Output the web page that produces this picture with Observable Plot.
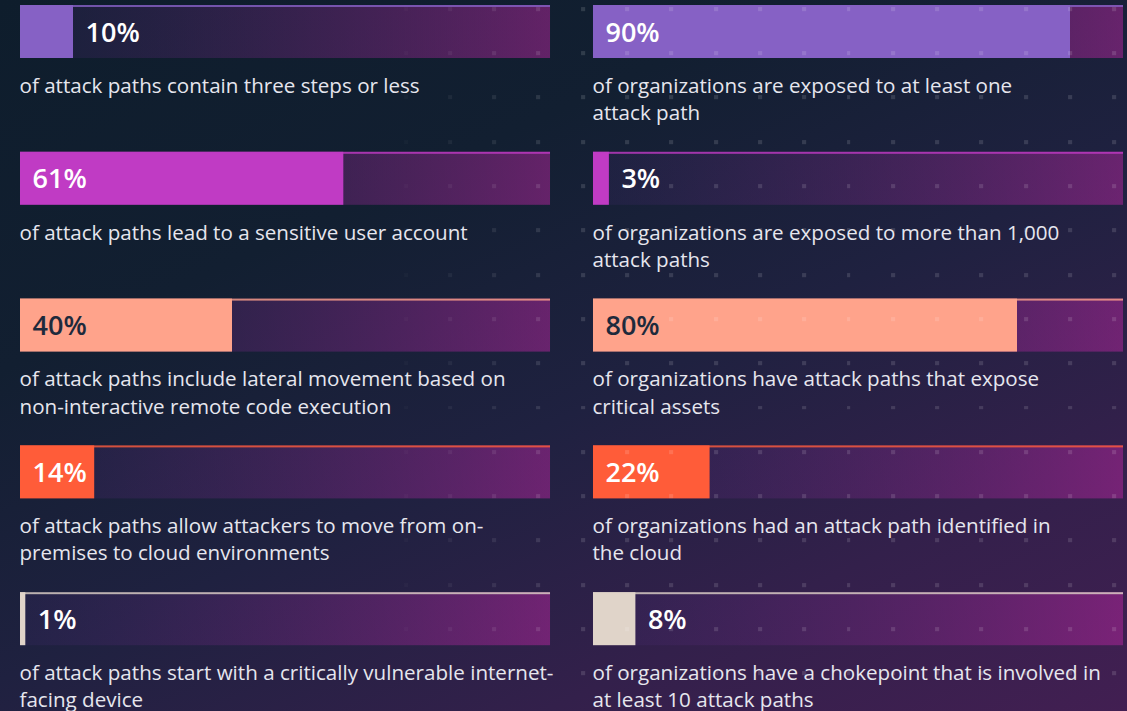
<!DOCTYPE html>
<html>
<head>
<meta charset="utf-8">
<script src="https://cdn.jsdelivr.net/npm/d3@7"></script>
<script src="https://cdn.jsdelivr.net/npm/@observablehq/plot@0.6"></script>
<style>
  html, body { margin: 0; padding: 0; width: 1127px; height: 711px; overflow: hidden; }
  body {
    background: linear-gradient(155deg, #0e1d2c 0%, #121f31 30%, #1f2140 55%, #33204b 78%, #421f52 100%);
    font-family: "Open Sans", "Noto Sans", sans-serif;
    position: relative;
  }
  #chart { position: absolute; left: 0; top: 0; }
  #dots {
    position: absolute; left: 0; top: 0; width: 1127px; height: 711px; pointer-events: none;
    background-image: url("data:image/svg+xml;utf8,<svg xmlns='http://www.w3.org/2000/svg' width='44.3' height='44.3'><rect x='5' y='7' width='4' height='4' fill='white' fill-opacity='0.13'/></svg>");
    background-size: 44.3px 44.3px;
    -webkit-mask-image: linear-gradient(to right, transparent 33%, black 50%);
    mask-image: linear-gradient(to right, transparent 33%, black 50%);
  }
</style>
</head>
<body>
<div id="chart"></div>
<div id="dots"></div>
<script>
// ---- data ----
const columns = ["attack paths", "organizations"];
const rows = [0, 1, 2, 3, 4];
const attackPathValues = [10, 61, 40, 14, 1];
const organizationValues = [90, 3, 80, 22, 8];
const attackPathTexts = [
  "of attack paths contain three steps or less",
  "of attack paths lead to a sensitive user account",
  "of attack paths include lateral movement based on\nnon-interactive remote code execution",
  "of attack paths allow attackers to move from on-\npremises to cloud environments",
  "of attack paths start with a critically vulnerable internet-\nfacing device"
];
const organizationTexts = [
  "of organizations are exposed to at least one\nattack path",
  "of organizations are exposed to more than 1,000\nattack paths",
  "of organizations have attack paths that expose\ncritical assets",
  "of organizations had an attack path identified in\nthe cloud",
  "of organizations have a chokepoint that is involved in\nat least 10 attack paths"
];
const rowColors = ["#8661c5", "#c03bc4", "#ffa38b", "#ff5c39", "#e0d4c9"];

// ---- table ----
const table = [];
rows.forEach((r, i) => {
  table.push({col: columns[0], row: r, value: attackPathValues[i], desc: attackPathTexts[i]});
  table.push({col: columns[1], row: r, value: organizationValues[i], desc: organizationTexts[i]});
});

const BAR = () => "bar";
const lightRows = new Set([2]);

const plot = Plot.plot({
  width: 1127,
  height: 743,
  marginLeft: 20,
  marginRight: 4,
  marginTop: 9,
  marginBottom: 0,
  style: {background: "transparent", fontFamily: "'Open Sans', 'Noto Sans', sans-serif", overflow: "visible"},
  fx: {domain: columns, paddingInner: 0.075, paddingOuter: 0, round: false, axis: null, label: null},
  fy: {domain: rows, padding: 0, round: false, axis: null, label: null},
  x: {domain: [0, 100], axis: null},
  y: {domain: ["bar"], range: [5, 58], padding: 0, round: false, axis: null},
  color: {domain: rows, range: rowColors},
  marks: [
    // track
    Plot.barX(table, {fx: "col", fy: "row", x1: () => 0, x2: () => 100, y: BAR, fill: "url(#trackGrad)"}),
    // top accent line of track
    Plot.barX(table, {fx: "col", fy: "row", x1: () => 0, x2: () => 100, y: BAR, fill: "row", fillOpacity: 0.8, insetBottom: 51}),
    // value fill
    Plot.barX(table, {fx: "col", fy: "row", x1: () => 0, x2: "value", y: BAR, fill: "row"}),
    // value label
    Plot.text(table, {
      fx: "col", fy: "row",
      x: d => d.value > 12 ? 0 : d.value,
      y: BAR,
      text: d => d.value + "%",
      dx: 12, dy: 1,
      textAnchor: "start",
      fontSize: 27,
      fontWeight: 600,
      fill: d => lightRows.has(d.row) ? "#1e2a3c" : "#ffffff"
    }),
    // description
    Plot.text(table, {
      fx: "col", fy: "row",
      text: "desc",
      frameAnchor: "top-left",
      textAnchor: "start",
      lineAnchor: "top",
      dx: -1,
      dy: 64,
      fontSize: 20.6,
      lineHeight: 1.32,
      fill: "#e6e6ee"
    })
  ]
});

const svg = d3.select(plot);
const defs = svg.insert("defs", ":first-child");
const g = defs.append("linearGradient").attr("id", "trackGrad").attr("x1", "0").attr("x2", "1").attr("y1", "0").attr("y2", "0");
g.append("stop").attr("offset", "0").attr("stop-color", "#3c2a6a").attr("stop-opacity", 0.22);
g.append("stop").attr("offset", "1").attr("stop-color", "#bb26a2").attr("stop-opacity", 0.48);

document.getElementById("chart").appendChild(plot);
</script>
</body>
</html>
